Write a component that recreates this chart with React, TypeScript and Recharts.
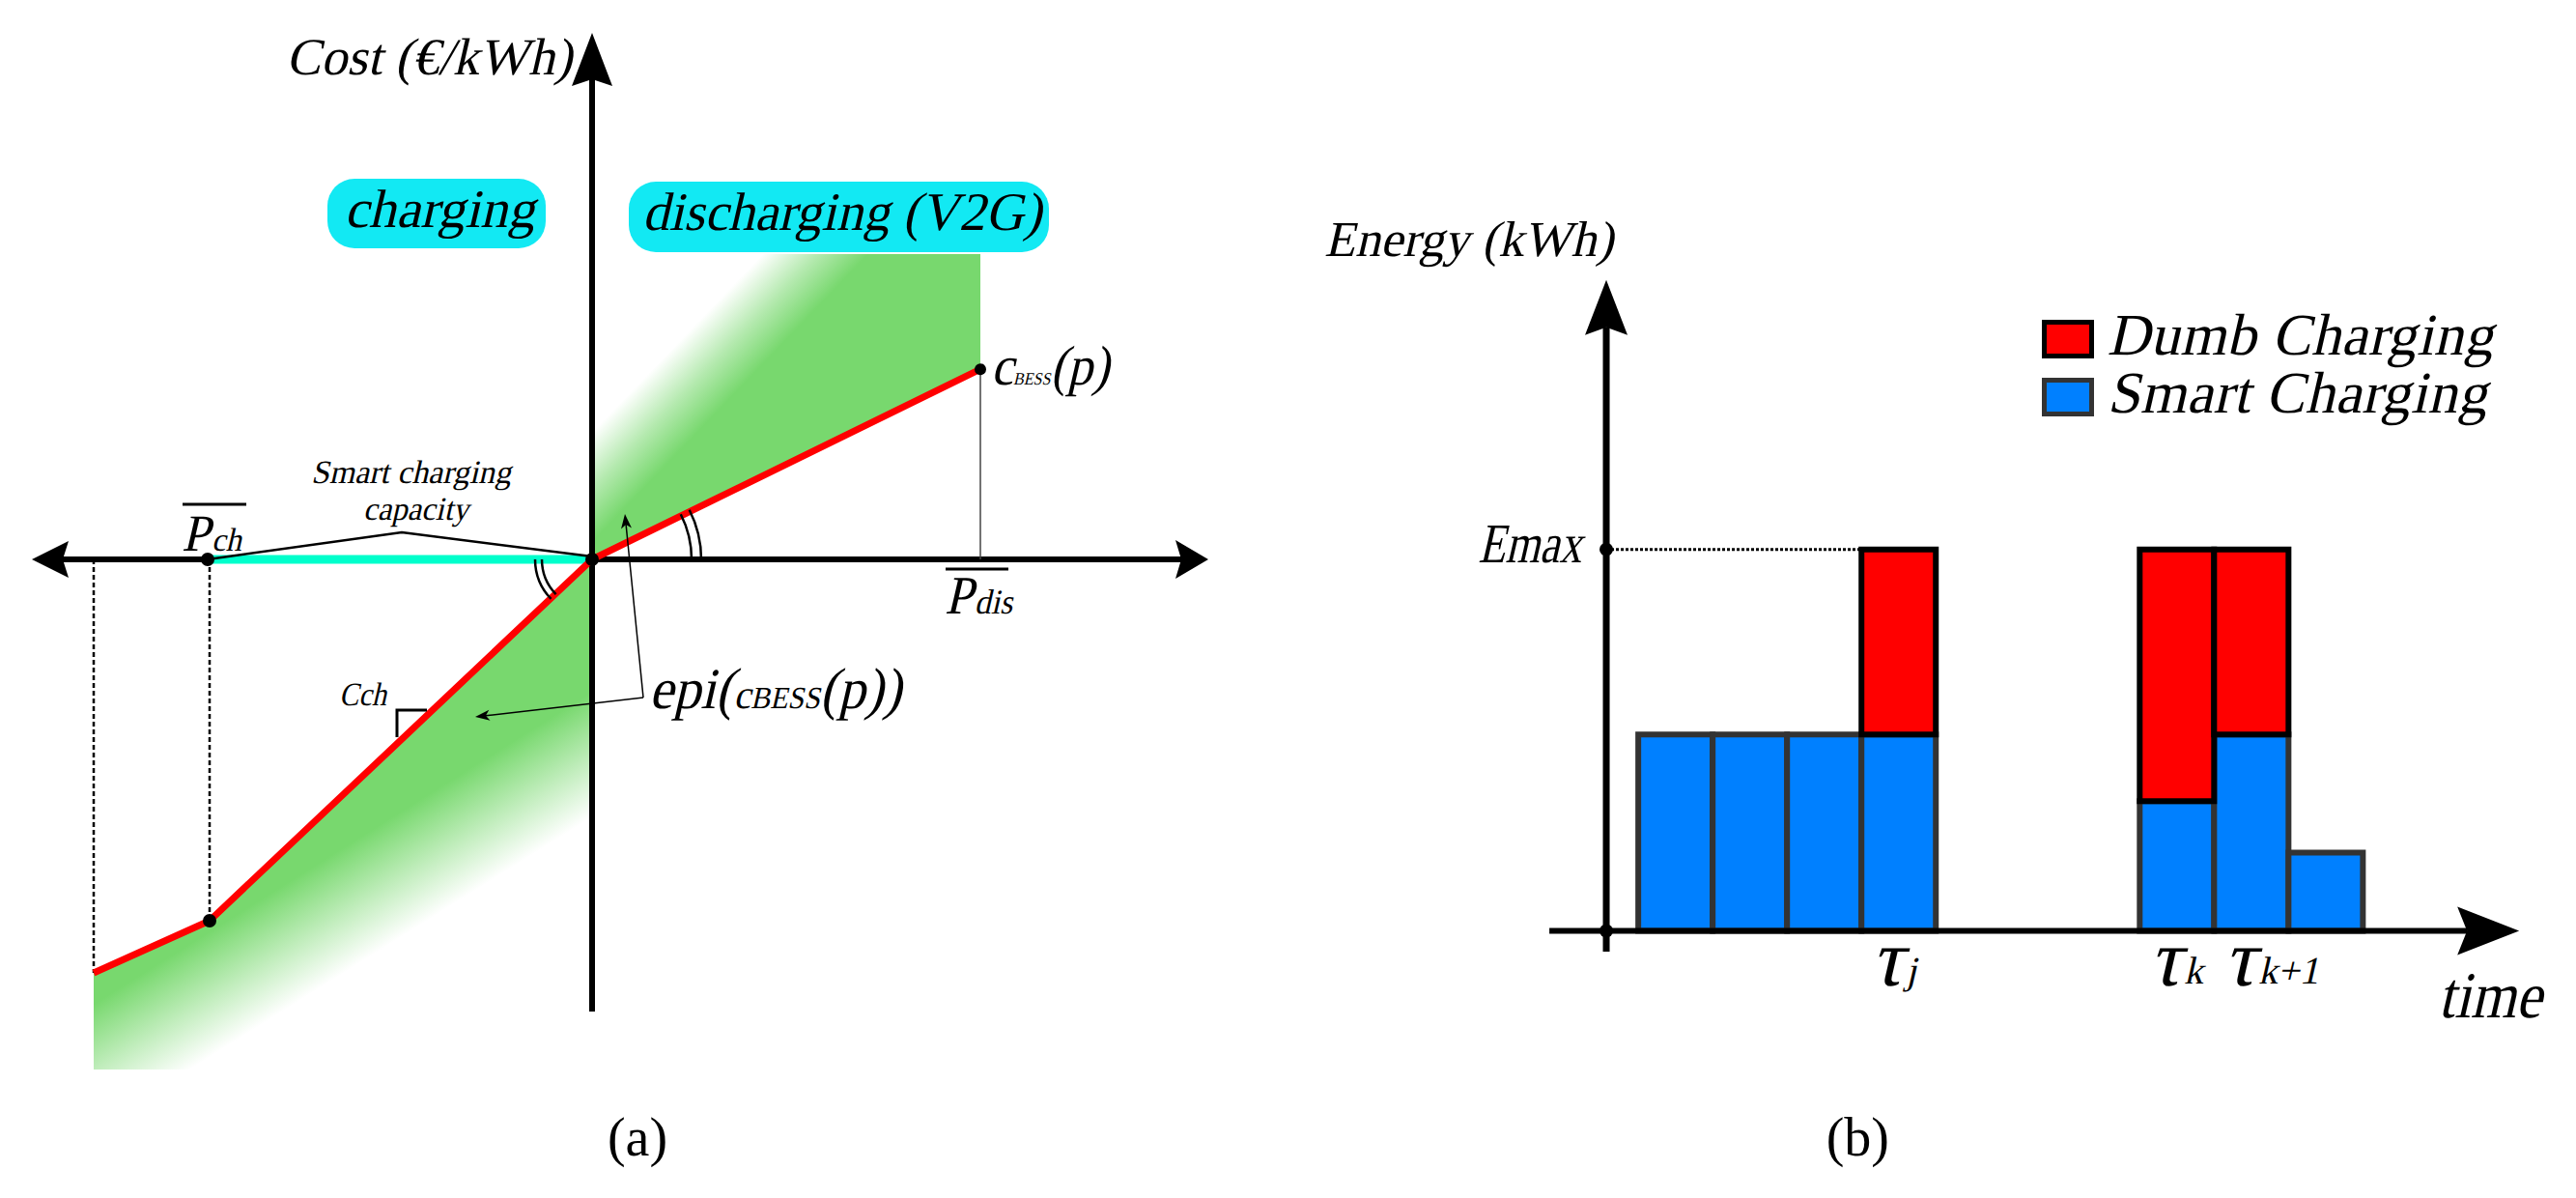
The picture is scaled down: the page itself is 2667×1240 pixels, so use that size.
import React from 'react';
import {
  ComposedChart,
  XAxis,
  YAxis,
  Line,
  Area,
  Bar,
  ReferenceLine,
  ReferenceDot,
  ReferenceArea,
  Legend,
} from 'recharts';

const FONT = '"Liberation Serif", "DejaVu Serif", serif';
const SLANT = -13;
const GREEN = '#78D86E';
const CYAN_BOX = '#12E9F3';
const CYAN_LINE = '#00FFCC';
const RED = '#FF0000';
const BLUE = '#0080FF';

// ---------------- Panel (a): cost curve ----------------
const costCurve = [
  { x: -12.9, y: -10.7 },
  { x: -9.9, y: -9.35 },
  { x: 0, y: 0 },
  { x: 10.05, y: 4.92 },
];
const smartCapacity = [
  { x: -9.9, y: 0 },
  { x: 0, y: 0 },
];
const capacityBrace = [
  { x: -9.95, y: 0 },
  { x: -4.925, y: 0.7 },
  { x: 0, y: 0.075 },
];
const epiChargingBand = [
  { x: -12.9, g: [-13.2, -10.7] },
  { x: -9.9, g: [-13.2, -9.35] },
  { x: 0, g: [-13.2, 0] },
];
const epiDischargingBand = [
  { x: 0, g: [0, 7.9] },
  { x: 10.05, g: [4.92, 7.9] },
];
const slopeMark = [
  { x: -5.05, y: -4.6 },
  { x: -5.05, y: -3.9 },
  { x: -4.275, y: -3.9 },
];

// ---------------- Panel (b): energy bars ----------------
const timeSlots = [0.5, 1.5, 2.5, 3.5, 7.24, 8.24, 9.24];
const smartCharging = [5.15, 5.15, 5.15, 5.15, 3.4, 5.15, 2.05];
const dumbCharging = [null, null, null, 4.85, 6.6, 4.85, null];
const tauLabels = [
  { x: 3.5, sub: 'j' },
  { x: 7.24, sub: 'k' },
  { x: 8.24, sub: 'k+1' },
];
const legendOrder = ['Dumb Charging', 'Smart Charging'];
const E_MAX = 10;

const energyRows = timeSlots.map((t, i) => ({
  t,
  smart: smartCharging[i],
  dumb: dumbCharging[i],
}));

// ---------------- helpers ----------------
const slantAt = (cx: number, cy: number) => `translate(${cx},${cy}) skewX(${SLANT}) translate(${-cx},${-cy})`;

type ArrowOpts = {
  sw: number;
  len: number;
  half: number;
  notch: number;
  both?: boolean;
  color?: string;
};
const arrowShape = (o: ArrowOpts) => (p: any) => {
  const x1 = +p.x1, y1 = +p.y1, x2 = +p.x2, y2 = +p.y2;
  const dx = x2 - x1, dy = y2 - y1;
  const L = Math.hypot(dx, dy) || 1;
  const ux = dx / L, uy = dy / L;
  const c = o.color ?? '#000';
  const head = (tx: number, ty: number, vx: number, vy: number) => {
    const bx = tx - vx * o.len, by = ty - vy * o.len;
    const mx = tx - vx * (o.len - o.notch), my = ty - vy * (o.len - o.notch);
    const px = -vy, py = vx;
    return `M${tx},${ty}L${bx + px * o.half},${by + py * o.half}L${mx},${my}L${bx - px * o.half},${by - py * o.half}Z`;
  };
  const back = o.len - o.notch;
  const sx = o.both ? x1 + ux * back : x1;
  const sy = o.both ? y1 + uy * back : y1;
  return (
    <g>
      <line x1={sx} y1={sy} x2={x2 - ux * back} y2={y2 - uy * back} stroke={c} strokeWidth={o.sw} />
      <path d={head(x2, y2, ux, uy)} fill={c} />
      {o.both ? <path d={head(x1, y1, -ux, -uy)} fill={c} /> : null}
    </g>
  );
};

type TxtOpts = { size: number; anchor?: 'start' | 'middle' | 'end'; italic?: boolean; len?: number };
const txt = (children: React.ReactNode, o: TxtOpts) => (p: any) => (
  <text
    x={p.cx}
    y={p.cy}
    transform={o.italic === false ? undefined : slantAt(p.cx, p.cy)}
    fontFamily={FONT}
    fontSize={o.size}
    textAnchor={o.anchor ?? 'start'}
    textLength={o.len}
    lengthAdjust={o.len ? 'spacingAndGlyphs' : undefined}
    fill="#000"
  >
    {children}
  </text>
);

const overlined = (main: string, sub: string, o: { size: number; subSize: number; barLift: number; barW: number; len: number }) => (p: any) => (
  <g>
    <line x1={p.cx + 1} y1={p.cy - o.barLift} x2={p.cx + 1 + o.barW} y2={p.cy - o.barLift} stroke="#000" strokeWidth={3} />
    <text
      x={p.cx}
      y={p.cy}
      transform={slantAt(p.cx, p.cy)}
      fontFamily={FONT}
      fontSize={o.size}
      textLength={o.len}
      lengthAdjust="spacingAndGlyphs"
      fill="#000"
    >
      <tspan>{main}</tspan>
      <tspan fontSize={o.subSize} dx={2}>{sub}</tspan>
    </text>
  </g>
);

const angleArcs = (p: any) => {
  const { cx, cy } = p;
  const arc = (r: number, a0: number, a1: number) => {
    const r0 = (a0 * Math.PI) / 180, r1 = (a1 * Math.PI) / 180;
    const sx = cx + r * Math.cos(r0), sy = cy + r * Math.sin(r0);
    const ex = cx + r * Math.cos(r1), ey = cy + r * Math.sin(r1);
    const sweep = a1 > a0 ? 1 : 0;
    return `M${sx},${sy}A${r},${r} 0 0 ${sweep} ${ex},${ey}`;
  };
  return (
    <g fill="none" stroke="#000" strokeWidth={2.5}>
      <path d={arc(103, 0, -27)} />
      <path d={arc(113, 0, -27)} />
      <path d={arc(52, 180, 136)} />
      <path d={arc(59, 180, 136)} />
    </g>
  );
};

const regionBox = (label: string, len: number) => (p: any) => {
  const tx = p.x + p.width / 2 + 3;
  const ty = p.y + 50;
  return (
    <g>
      <rect x={p.x} y={p.y} width={p.width} height={p.height} rx={28} ry={28} fill={CYAN_BOX} />
      <text
        x={tx}
        y={ty}
        transform={slantAt(tx, ty)}
        fontFamily={FONT}
        fontSize={56}
        textAnchor="middle"
        textLength={len}
        lengthAdjust="spacingAndGlyphs"
        fill="#000"
      >
        {label}
      </text>
    </g>
  );
};

const legendContent = (props: any) => {
  const items = [...(props.payload ?? [])].sort(
    (a: any, b: any) => legendOrder.indexOf(a.value) - legendOrder.indexOf(b.value)
  );
  return (
    <div style={{ fontFamily: FONT, fontSize: 61, color: '#000' }}>
      {items.map((it: any) => (
        <div key={it.value} style={{ display: 'flex', alignItems: 'center', height: 60, whiteSpace: 'nowrap' }}>
          <span
            style={{
              display: 'inline-block',
              width: 44,
              height: 30,
              background: it.color,
              border: `5px solid ${it.value === 'Dumb Charging' ? '#000' : '#333'}`,
              marginRight: 18,
            }}
          />
          <span
            style={{
              display: 'inline-block',
              lineHeight: '60px',
              position: 'relative',
              top: -4,
              transform: `skewX(${SLANT}deg)`,
              letterSpacing: 0.5,
            }}
          >
            {it.value}
          </span>
        </div>
      ))}
    </div>
  );
};

export default function App() {
  return (
    <div
      style={{
        position: 'absolute',
        left: 0,
        top: 0,
        width: 2667,
        height: 1240,
        overflow: 'hidden',
        background: '#fff',
      }}
    >
      {/* ---------- Panel (a) ---------- */}
      <div style={{ position: 'absolute', left: 13, top: -1 }}>
        <ComposedChart width={1300} height={1240} margin={{ top: 0, right: 0, bottom: 0, left: 0 }}>
          <defs>
            <linearGradient id="epiLeft" x1="0" y1="0" x2="0.498" y2="0.813">
              <stop offset="0" stopColor={GREEN} stopOpacity={1} />
              <stop offset="0.78" stopColor={GREEN} stopOpacity={1} />
              <stop offset="0.9" stopColor={GREEN} stopOpacity={0.45} />
              <stop offset="1" stopColor={GREEN} stopOpacity={0} />
            </linearGradient>
            <linearGradient id="epiRight" x1="0" y1="0" x2="0.597" y2="0.45">
              <stop offset="0" stopColor={GREEN} stopOpacity={0} />
              <stop offset="0.47" stopColor={GREEN} stopOpacity={0} />
              <stop offset="0.62" stopColor={GREEN} stopOpacity={0.55} />
              <stop offset="0.76" stopColor={GREEN} stopOpacity={1} />
              <stop offset="1" stopColor={GREEN} stopOpacity={1} />
            </linearGradient>
          </defs>
          <XAxis type="number" dataKey="x" domain={[-15, 17.5]} hide allowDataOverflow />
          <YAxis type="number" domain={[-16.5, 14.5]} hide allowDataOverflow />

          <Area
            data={epiChargingBand}
            dataKey="g"
            type="linear"
            stroke="none"
            fill="url(#epiLeft)"
            fillOpacity={1}
            isAnimationActive={false}
          />
          <Area
            data={epiDischargingBand}
            dataKey="g"
            type="linear"
            stroke="none"
            fill="url(#epiRight)"
            fillOpacity={1}
            isAnimationActive={false}
          />

          {/* axes */}
          <ReferenceLine
            segment={[{ x: -9.9, y: 0 }, { x: -14.5, y: 0 }]}
            ifOverflow="visible"
            shape={arrowShape({ sw: 6, len: 38, half: 19, notch: 6 })}
          />
          <ReferenceLine
            segment={[{ x: 0, y: 0 }, { x: 15.95, y: 0 }]}
            ifOverflow="visible"
            shape={arrowShape({ sw: 6, len: 34, half: 20, notch: 6 })}
          />
          <ReferenceLine
            segment={[{ x: 0, y: -11.7 }, { x: 0, y: 13.625 }]}
            ifOverflow="visible"
            shape={arrowShape({ sw: 6, len: 55, half: 21, notch: 7 })}
          />

          {/* guide lines */}
          <ReferenceLine
            segment={[{ x: -12.9, y: 0 }, { x: -12.9, y: -10.7 }]}
            ifOverflow="visible"
            stroke="#000"
            strokeWidth={2.5}
            strokeDasharray="5 3"
          />
          <ReferenceLine
            segment={[{ x: -9.9, y: 0 }, { x: -9.9, y: -9.35 }]}
            ifOverflow="visible"
            stroke="#000"
            strokeWidth={2.5}
            strokeDasharray="5 3"
          />
          <ReferenceLine
            segment={[{ x: 10.05, y: 0 }, { x: 10.05, y: 4.92 }]}
            ifOverflow="visible"
            stroke="#444"
            strokeWidth={1.5}
          />

          <Line
            data={smartCapacity}
            dataKey="y"
            type="linear"
            stroke={CYAN_LINE}
            strokeWidth={9}
            dot={false}
            isAnimationActive={false}
          />
          <Line
            data={capacityBrace}
            dataKey="y"
            type="linear"
            stroke="#000"
            strokeWidth={2.5}
            dot={false}
            isAnimationActive={false}
          />
          <Line
            data={costCurve}
            dataKey="y"
            type="linear"
            stroke={RED}
            strokeWidth={7}
            strokeLinejoin="round"
            dot={false}
            isAnimationActive={false}
          />
          <Line
            data={slopeMark}
            dataKey="y"
            type="linear"
            stroke="#000"
            strokeWidth={3}
            dot={false}
            isAnimationActive={false}
          />

          {/* epigraph pointer arrows */}
          <ReferenceLine
            segment={[{ x: 1.325, y: -3.575 }, { x: -3.025, y: -4.075 }]}
            ifOverflow="visible"
            shape={arrowShape({ sw: 1.5, len: 15, half: 5.5, notch: 4 })}
          />
          <ReferenceLine
            segment={[{ x: 1.325, y: -3.575 }, { x: 0.85, y: 1.175 }]}
            ifOverflow="visible"
            shape={arrowShape({ sw: 1.5, len: 15, half: 5.5, notch: 4 })}
          />

          <ReferenceDot x={0} y={0} r={0} ifOverflow="visible" shape={angleArcs} />

          {/* points */}
          <ReferenceDot x={-9.95} y={0} r={7} fill="#000" stroke="none" ifOverflow="visible" />
          <ReferenceDot x={-9.9} y={-9.35} r={7} fill="#000" stroke="none" ifOverflow="visible" />
          <ReferenceDot x={0} y={0} r={7} fill="#000" stroke="none" ifOverflow="visible" />
          <ReferenceDot x={10.05} y={4.92} r={6} fill="#000" stroke="none" ifOverflow="visible" />

          {/* region boxes */}
          <ReferenceArea
            x1={-6.85}
            x2={-1.2}
            y1={8.05}
            y2={9.85}
            ifOverflow="visible"
            shape={regionBox('charging', 197)}
          />
          <ReferenceArea
            x1={0.95}
            x2={11.825}
            y1={7.95}
            y2={9.775}
            ifOverflow="visible"
            shape={regionBox('discharging (V2G)', 413)}
          />

          {/* texts */}
          <ReferenceDot x={-7.925} y={12.55} r={0} ifOverflow="visible" shape={txt('Cost (€/kWh)', { size: 54, len: 296 })} />
          <ReferenceDot x={-4.69} y={1.975} r={0} ifOverflow="visible" shape={txt('Smart charging', { size: 34, anchor: 'middle', len: 207 })} />
          <ReferenceDot x={-4.56} y={1.025} r={0} ifOverflow="visible" shape={txt('capacity', { size: 34, anchor: 'middle', len: 109 })} />
          <ReferenceDot
            x={-10.625}
            y={0.225}
            r={0}
            ifOverflow="visible"
            shape={overlined('P', 'ch', { size: 54, subSize: 34, barLift: 48, barW: 66, len: 62 })}
          />
          <ReferenceDot
            x={9.125}
            y={-1.4}
            r={0}
            ifOverflow="visible"
            shape={overlined('P', 'dis', { size: 56, subSize: 36, barLift: 46, barW: 65, len: 70 })}
          />
          <ReferenceDot
            x={10.325}
            y={4.525}
            r={0}
            ifOverflow="visible"
            shape={txt(
              <>
                <tspan>c</tspan>
                <tspan fontSize={18}>BESS</tspan>
                <tspan>(p)</tspan>
              </>,
              { size: 58, len: 122 }
            )}
          />
          <ReferenceDot x={-6.55} y={-3.775} r={0} ifOverflow="visible" shape={txt('Cch', { size: 34, len: 49 })} />
          <ReferenceDot
            x={1.475}
            y={-3.85}
            r={0}
            ifOverflow="visible"
            shape={txt(
              <>
                <tspan>epi(</tspan>
                <tspan fontSize={42}>c</tspan>
                <tspan fontSize={32}>BESS</tspan>
                <tspan>(p))</tspan>
              </>,
              { size: 60, len: 261 }
            )}
          />
          <ReferenceDot x={1.175} y={-15.425} r={0} ifOverflow="visible" shape={txt('(a)', { size: 56, anchor: 'middle', italic: false })} />
        </ComposedChart>
      </div>

      {/* ---------- Panel (b) ---------- */}
      <div style={{ position: 'absolute', left: 1311, top: 0 }}>
        <ComposedChart
          width={1348}
          height={1240}
          data={energyRows}
          margin={{ top: 0, right: 0, bottom: 0, left: 0 }}
          barCategoryGap={0}
          barGap={0}
        >
          <XAxis type="number" dataKey="t" domain={[-5, 12.5]} hide allowDataOverflow />
          <YAxis type="number" domain={[-7, 24.4]} hide allowDataOverflow />

          <Bar
            dataKey="smart"
            stackId="energy"
            name="Smart Charging"
            fill={BLUE}
            stroke="#333"
            strokeWidth={6}
            barSize={77}
            isAnimationActive={false}
          />
          <Bar
            dataKey="dumb"
            stackId="energy"
            name="Dumb Charging"
            fill={RED}
            stroke="#000"
            strokeWidth={6}
            barSize={77}
            isAnimationActive={false}
          />

          <ReferenceLine
            segment={[{ x: -0.43, y: -0.54 }, { x: -0.43, y: 17.06 }]}
            ifOverflow="visible"
            shape={arrowShape({ sw: 7, len: 57, half: 22, notch: 8 })}
          />
          <ReferenceLine
            segment={[{ x: -1.195, y: 0 }, { x: 11.84, y: 0 }]}
            ifOverflow="visible"
            shape={arrowShape({ sw: 6, len: 64, half: 25, notch: 10 })}
          />
          <ReferenceLine
            segment={[{ x: -0.43, y: E_MAX }, { x: 3.0, y: E_MAX }]}
            ifOverflow="visible"
            stroke="#000"
            strokeWidth={3}
            strokeDasharray="3 2"
          />
          <ReferenceDot x={-0.43} y={0} r={7} fill="#000" stroke="none" ifOverflow="visible" />
          <ReferenceDot x={-0.43} y={E_MAX} r={7} fill="#000" stroke="none" ifOverflow="visible" />

          <ReferenceDot x={-0.338} y={17.69} r={0} ifOverflow="visible" shape={txt('Energy (kWh)', { size: 52, anchor: 'end', len: 299 })} />
          <ReferenceDot x={-0.766} y={9.66} r={0} ifOverflow="visible" shape={txt('Emax', { size: 58, anchor: 'end', len: 107 })} />
          {tauLabels.map((l) => (
            <ReferenceDot
              key={l.sub}
              x={l.x}
              y={-1.43}
              r={0}
              ifOverflow="visible"
              shape={(p: any) => (
                <text
                  x={p.cx - 29}
                  y={p.cy}
                  transform={slantAt(p.cx - 29, p.cy)}
                  fontFamily={FONT}
                  fontSize={84}
                  fill="#000"
                >
                  <tspan>τ</tspan>
                  <tspan fontSize={40} dx={2} dy={-2}>{l.sub}</tspan>
                </text>
              )}
            />
          ))}
          <ReferenceDot x={10.75} y={-2.26} r={0} ifOverflow="visible" shape={txt('time', { size: 68, len: 107 })} />
          <ReferenceDot x={2.95} y={-5.88} r={0} ifOverflow="visible" shape={txt('(b)', { size: 56, anchor: 'middle', italic: false })} />

          <Legend
            content={legendContent}
            layout="horizontal"
            verticalAlign="middle"
            align="center"
            wrapperStyle={{ left: 803, top: 321, width: 'auto', height: 'auto' }}
          />
        </ComposedChart>
      </div>
    </div>
  );
}
